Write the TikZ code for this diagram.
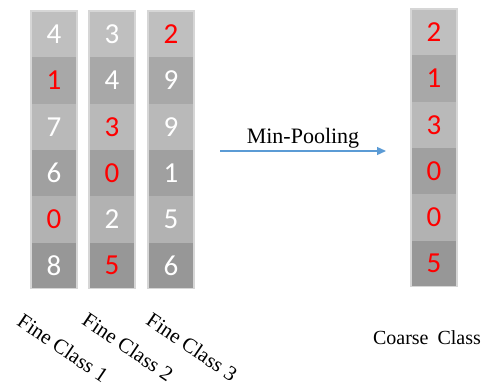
\documentclass[tikz,border=0pt]{standalone}
\usepackage{fontspec}
\setmainfont{Liberation Serif}
\newfontfamily\digitfont{Carlito}
\usetikzlibrary{arrows.meta}
\definecolor{ga}{HTML}{BFBFBF}
\definecolor{gb}{HTML}{A8A8A8}
\definecolor{gc}{HTML}{B9B9B9}
\definecolor{gd}{HTML}{A0A0A0}
\definecolor{ge}{HTML}{B2B2B2}
\definecolor{gf}{HTML}{979797}
\definecolor{edge}{HTML}{D6D6D6}
\definecolor{arrowblue}{HTML}{5B9BD5}
\begin{document}
\begin{tikzpicture}[x=1pt,y=-1pt,
  cell/.style={minimum width=46pt, minimum height=46.3pt, inner sep=0pt, outer sep=0pt,
    anchor=north west, text=white, font=\digitfont\fontsize{29}{29}\selectfont},
  hot/.style={text=red},
  colframe/.style={draw=edge, line width=1.2pt},
  lbl/.style={font=\fontsize{21}{21}\selectfont, rotate=-34, inner sep=0pt},
  pool/.style={draw=arrowblue, line width=1.3pt, -{Triangle[length=9pt,width=8pt]}}]
\useasboundingbox (0,0) rectangle (487,389);
% fine class columns
\foreach \col/\x/\vals in {1/31/{4/,1/hot,7/,6/,0/hot,8/},
                           2/89/{3/,4/,3/hot,0/hot,2/,5/hot},
                           3/148/{2/hot,9/,9/,1/,5/,6/}}{
  \foreach \v/\st [count=\r] in \vals {
    \pgfmathsetmacro\yy{11+(\r-1)*46.3}
    \ifcase\r\or\def\fc{ga}\or\def\fc{gb}\or\def\fc{gc}\or\def\fc{gd}\or\def\fc{ge}\or\def\fc{gf}\fi
    \node[cell, fill=\fc, \st] (f\col r\r) at (\x,\yy) {\raisebox{-1.5pt}{\v}};
  }
  \draw[colframe] (f\col r1.north west) rectangle (f\col r6.south east);
}
% coarse class column
\foreach \v [count=\r] in {2,1,3,0,0,5}{
  \pgfmathsetmacro\yy{9+(\r-1)*46.3}
  \ifcase\r\or\def\fc{ga}\or\def\fc{gb}\or\def\fc{gc}\or\def\fc{gd}\or\def\fc{ge}\or\def\fc{gf}\fi
  \node[cell, fill=\fc, hot] (c\r) at (411,\yy) {\raisebox{-1.5pt}{\v}};
}
\draw[colframe] (c1.north west) rectangle (c6.south east);
% arrow
\coordinate (astart) at (220,151);
\coordinate (aend) at (386,151);
\draw[pool] (astart) -- node[above=1pt, font=\fontsize{22}{22}\selectfont, inner sep=1pt] (mp) {Min-Pooling} (aend);
% labels
\node[lbl] (l1) at (63,348) {Fine Class 1};
\node[lbl] (l2) at (128,347) {Fine Class 2};
\node[lbl] (l3) at (192,347) {Fine Class 3};
\node[font=\fontsize{20}{20}\selectfont, inner sep=0pt] (lc) at (427,338) {Coarse\hspace{0.45em}Class};
\end{tikzpicture}
\end{document}
